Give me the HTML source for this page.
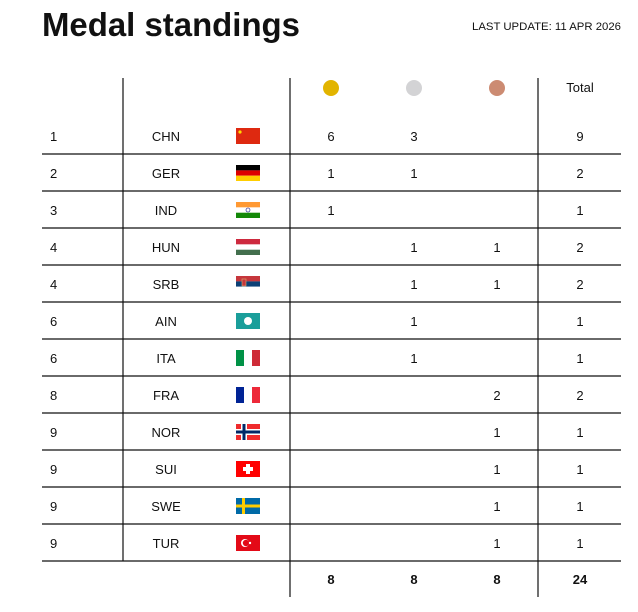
<!DOCTYPE html>
<html><head><meta charset="utf-8"><style>
html,body{margin:0;padding:0;background:#fff;width:638px;height:612px;overflow:hidden}
svg text{font-family:"Liberation Sans",sans-serif;fill:#111}
</style></head><body>
<svg width="638" height="612" viewBox="0 0 638 612" xmlns="http://www.w3.org/2000/svg">
<text x="42" y="36" font-size="33" font-weight="bold" textLength="258" lengthAdjust="spacingAndGlyphs">Medal standings</text>
<text x="621" y="30" font-size="11" text-anchor="end" textLength="149" lengthAdjust="spacingAndGlyphs">LAST UPDATE: 11 APR 2026</text>
<g stroke="#111" stroke-width="1.2">
<line x1="123" y1="78" x2="123" y2="561"/>
<line x1="290" y1="78" x2="290" y2="597"/>
<line x1="538" y1="78" x2="538" y2="597"/>
<line x1="42" y1="154" x2="621" y2="154"/>
<line x1="42" y1="191" x2="621" y2="191"/>
<line x1="42" y1="228" x2="621" y2="228"/>
<line x1="42" y1="265" x2="621" y2="265"/>
<line x1="42" y1="302" x2="621" y2="302"/>
<line x1="42" y1="339" x2="621" y2="339"/>
<line x1="42" y1="376" x2="621" y2="376"/>
<line x1="42" y1="413" x2="621" y2="413"/>
<line x1="42" y1="450" x2="621" y2="450"/>
<line x1="42" y1="487" x2="621" y2="487"/>
<line x1="42" y1="524" x2="621" y2="524"/>
<line x1="42" y1="561" x2="621" y2="561"/>
</g>
<circle cx="331" cy="88" r="8" fill="#e2b400"/>
<circle cx="414" cy="88" r="8" fill="#d3d3d5"/>
<circle cx="497" cy="88" r="8" fill="#cc8b72"/>
<text x="580" y="92" font-size="13" text-anchor="middle">Total</text>
<g font-size="13">
<!-- row texts: center y, baseline +5 -->
<g text-anchor="start">
<text x="50" y="141">1</text><text x="50" y="178">2</text><text x="50" y="215">3</text><text x="50" y="252">4</text><text x="50" y="289">4</text><text x="50" y="326">6</text><text x="50" y="363">6</text><text x="50" y="400">8</text><text x="50" y="437">9</text><text x="50" y="474">9</text><text x="50" y="511">9</text><text x="50" y="548">9</text>
</g>
<g text-anchor="middle">
<text x="166" y="141">CHN</text><text x="166" y="178">GER</text><text x="166" y="215">IND</text><text x="166" y="252">HUN</text><text x="166" y="289">SRB</text><text x="166" y="326">AIN</text><text x="166" y="363">ITA</text><text x="166" y="400">FRA</text><text x="166" y="437">NOR</text><text x="166" y="474">SUI</text><text x="166" y="511">SWE</text><text x="166" y="548">TUR</text>
<!-- gold -->
<text x="331" y="141">6</text><text x="331" y="178">1</text><text x="331" y="215">1</text>
<!-- silver -->
<text x="414" y="141">3</text><text x="414" y="178">1</text><text x="414" y="252">1</text><text x="414" y="289">1</text><text x="414" y="326">1</text><text x="414" y="363">1</text>
<!-- bronze -->
<text x="497" y="252">1</text><text x="497" y="289">1</text><text x="497" y="400">2</text><text x="497" y="437">1</text><text x="497" y="474">1</text><text x="497" y="511">1</text><text x="497" y="548">1</text>
<!-- total -->
<text x="580" y="141">9</text><text x="580" y="178">2</text><text x="580" y="215">1</text><text x="580" y="252">2</text><text x="580" y="289">2</text><text x="580" y="326">1</text><text x="580" y="363">1</text><text x="580" y="400">2</text><text x="580" y="437">1</text><text x="580" y="474">1</text><text x="580" y="511">1</text><text x="580" y="548">1</text>
<!-- totals row -->
<g font-weight="bold"><text x="331" y="584">8</text><text x="414" y="584">8</text><text x="497" y="584">8</text><text x="580" y="584">24</text></g>
</g>
</g>
<!-- flags -->
<!-- CHN -->
<rect x="236" y="128" width="24" height="16" fill="#de2910"/><circle cx="240" cy="132" r="1.6" fill="#ffde00"/>
<!-- GER -->
<rect x="236" y="165" width="24" height="5.4" fill="#000"/><rect x="236" y="170.4" width="24" height="5.3" fill="#dd0000"/><rect x="236" y="175.7" width="24" height="5.3" fill="#ffce00"/>
<!-- IND -->
<rect x="236" y="202" width="24" height="5.4" fill="#ff9933"/><rect x="236" y="207.4" width="24" height="5.3" fill="#fff"/><rect x="236" y="212.7" width="24" height="5.3" fill="#138808"/><circle cx="248" cy="210" r="2" fill="none" stroke="#000080" stroke-width="0.6"/>
<!-- HUN -->
<rect x="236" y="239" width="24" height="5.4" fill="#cd2a3e"/><rect x="236" y="244.4" width="24" height="5.3" fill="#fff"/><rect x="236" y="249.7" width="24" height="5.3" fill="#436f4d"/>
<!-- SRB -->
<rect x="236" y="276" width="24" height="5.4" fill="#c6363c"/><rect x="236" y="281.4" width="24" height="5.3" fill="#0c4076"/><rect x="236" y="286.7" width="24" height="5.3" fill="#fff"/><rect x="242" y="279" width="4" height="7" fill="#c6363c" stroke="#d8b070" stroke-width="0.6"/>
<!-- AIN -->
<rect x="236" y="313" width="24" height="16" fill="#1a9e9a"/><circle cx="248" cy="321" r="4" fill="#fff"/>
<!-- ITA -->
<rect x="236" y="350" width="8" height="16" fill="#009246"/><rect x="244" y="350" width="8" height="16" fill="#fff"/><rect x="252" y="350" width="8" height="16" fill="#ce2b37"/>
<!-- FRA -->
<rect x="236" y="387" width="8" height="16" fill="#002395"/><rect x="244" y="387" width="8" height="16" fill="#fff"/><rect x="252" y="387" width="8" height="16" fill="#ed2939"/>
<!-- NOR -->
<rect x="236" y="424" width="24" height="16" fill="#ef2b2d"/><rect x="241" y="424" width="6" height="16" fill="#fff"/><rect x="236" y="429" width="24" height="6" fill="#fff"/><rect x="242.5" y="424" width="3" height="16" fill="#002868"/><rect x="236" y="430.5" width="24" height="3" fill="#002868"/>
<!-- SUI -->
<rect x="236" y="461" width="24" height="16" fill="#ff0000"/><rect x="246" y="464" width="4" height="10" fill="#fff"/><rect x="243" y="467" width="10" height="4" fill="#fff"/>
<!-- SWE -->
<rect x="236" y="498" width="24" height="16" fill="#006aa7"/><rect x="242" y="498" width="3" height="16" fill="#fecc00"/><rect x="236" y="504.5" width="24" height="3" fill="#fecc00"/>
<!-- TUR -->
<rect x="236" y="535" width="24" height="16" fill="#e30a17"/><circle cx="245" cy="543" r="4" fill="#fff"/><circle cx="246" cy="543" r="3.2" fill="#e30a17"/><circle cx="250" cy="543" r="1.2" fill="#fff"/>
</svg>
</body></html>
